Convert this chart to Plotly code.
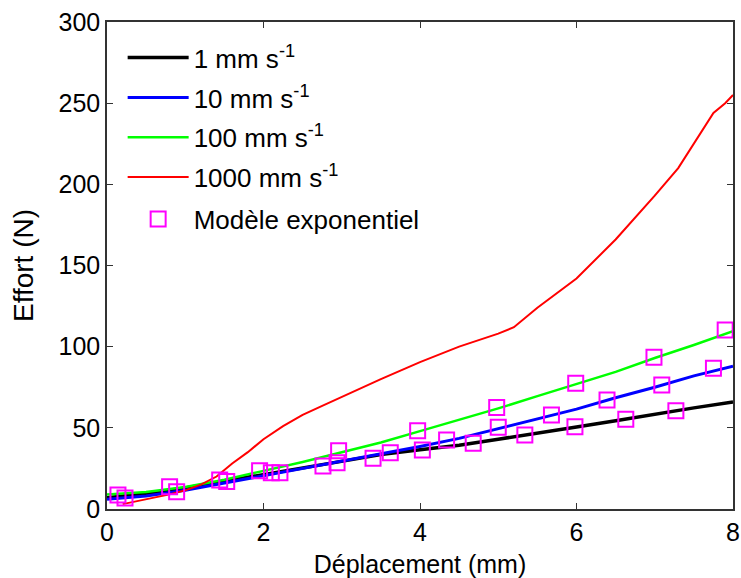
import plotly.graph_objects as go

# Displacement (mm) sample positions for each experimental curve
x_1 = [0, 0.5, 1, 1.5, 2, 2.5, 3, 3.5, 4, 4.5, 5, 5.5, 6, 6.5, 7, 7.5, 8]
f_1 = [7, 9.5, 13, 17, 21, 25, 29.5, 33.5, 36.5, 39.3, 43, 47, 50.5, 54.3, 58.4, 62.3, 66]

x_10 = [0, 0.5, 1, 1.5, 2, 2.5, 3, 3.5, 4, 4.5, 5, 5.5, 6, 6.5, 7, 7.5, 8]
f_10 = [6, 8, 11.5, 16, 20.5, 25, 29.5, 34, 38.5, 43.5, 49.5, 55.5, 61.5, 68.5, 75, 82, 88]

x_100 = [0, 0.5, 1, 1.5, 2, 2.5, 3, 3.5, 4, 4.5, 5, 5.5, 6, 6.5, 7, 7.5, 8]
f_100 = [9, 10.5, 13.5, 18, 23.5, 29, 35, 41, 48, 55, 62, 69.5, 77, 84.5, 93, 101, 109.5]

x_1000 = [0.2, 0.5, 0.8, 1.0, 1.2, 1.4, 1.6, 1.8, 2.0, 2.25, 2.5, 2.75, 3.0, 3.5, 4.0,
          4.5, 5.0, 5.2, 5.5, 6.0, 6.5, 7.0, 7.3, 7.5, 7.75, 7.9, 8.0]
f_1000 = [3, 6, 9, 11.5, 15, 20, 28, 35, 43, 51, 58, 63.5, 69, 80, 90.5,
          100, 108, 112, 124, 142, 166, 193, 210, 225, 244, 250, 255]

# Exponential model points
model_x = [0.14, 0.23, 0.80, 0.89, 1.44, 1.53, 1.95, 2.10, 2.21, 2.76, 2.94, 2.96, 3.40,
           3.62, 3.97, 4.03, 4.34, 4.68, 4.98, 5.00, 5.34, 5.68, 5.98, 5.99, 6.39, 6.63,
           6.99, 7.09, 7.27, 7.75, 7.90]
model_y = [8.6, 6.7, 13.7, 10.7, 17.9, 16.9, 23.6, 22.4, 22.4, 26.5, 28.5, 35.9, 31.2,
           34.7, 48.2, 36.4, 42.5, 40.5, 62.6, 50.3, 45.6, 57.9, 50.7, 77.4, 67.2, 55.3,
           93.5, 76.4, 60.6, 86.7, 110.3]

x_ticks = [0, 2, 4, 6, 8]
y_ticks = [0, 50, 100, 150, 200, 250, 300]

series = [
    ("1 mm s<sup>-1</sup>", x_1, f_1, "#000000", 3.5),
    ("10 mm s<sup>-1</sup>", x_10, f_10, "#0000FF", 3),
    ("100 mm s<sup>-1</sup>", x_100, f_100, "#00FF00", 2.5),
    ("1000 mm s<sup>-1</sup>", x_1000, f_1000, "#FF0000", 2),
]

FONT = "Liberation Sans, Arial, Helvetica, sans-serif"

fig = go.Figure()
for i, (name, xs, ys, col, w) in enumerate(series):
    fig.add_trace(go.Scatter(x=xs, y=ys, mode="lines", name=name,
                             legendgroup=f"g{i}",
                             line=dict(color=col, width=w)))
fig.add_trace(go.Scatter(x=model_x, y=model_y, mode="markers", name="Modèle exponentiel",
                         legend="legend2",
                         marker=dict(symbol="square-open", size=15, color="#FF00FF",
                                     line=dict(width=2, color="#FF00FF"))))

axis_common = dict(showline=True, linecolor="#333333", linewidth=1.5, mirror="ticks",
                   ticks="inside", ticklen=6, tickwidth=1.2, tickcolor="#333333",
                   showgrid=False, zeroline=False, automargin=False,
                   tickfont=dict(family=FONT, size=25, color="black"))

legend_common = dict(xanchor="left", bgcolor="rgba(0,0,0,0)", borderwidth=0,
                     font=dict(family=FONT, size=26, color="black"),
                     itemwidth=61)

fig.update_layout(
    width=741, height=578,
    margin=dict(l=107, r=8, t=22, b=69),
    paper_bgcolor="white", plot_bgcolor="white",
    font=dict(family=FONT, color="black"),
    showlegend=True,
    legend=dict(x=0.025, y=0.975, yanchor="top", tracegroupgap=3,
                traceorder="grouped", **legend_common),
    legend2=dict(x=0.025, y=0.5955, yanchor="middle", traceorder="normal",
                 **legend_common),
    xaxis=dict(range=[0, 8], tickvals=x_ticks, ticklabelstandoff=0,
               title=dict(text="Déplacement (mm)", font=dict(family=FONT, size=25),
                          standoff=12),
               **axis_common),
    yaxis=dict(range=[0, 300], tickvals=y_ticks,
               title=dict(text="Effort (N)", font=dict(family=FONT, size=28),
                          standoff=17),
               **axis_common),
)

fig.write_html("out.html", config={"displayModeBar": False},
               post_script="document.body.style.margin='0px';")
